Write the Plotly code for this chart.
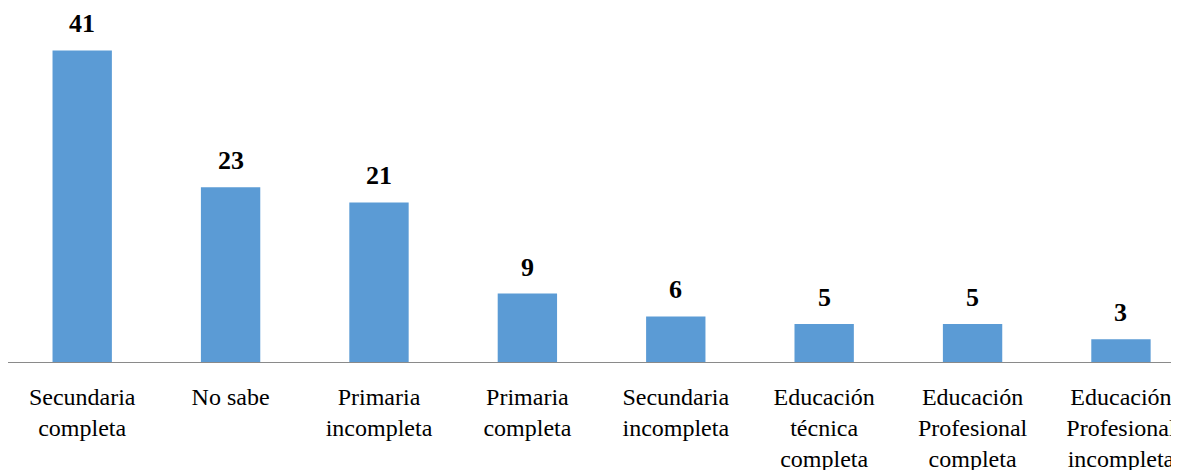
import plotly.graph_objects as go

categories = ["Secundaria<br>completa", "No sabe", "Primaria<br>incompleta", "Primaria<br>completa",
              "Secundaria<br>incompleta", "Educación<br>técnica<br>completa",
              "Educación<br>Profesional<br>completa", "Educación<br>Profesional<br>incompleta"]
values = [41, 23, 21, 9, 6, 5, 5, 3]

SERIF = "Times New Roman"

fig = go.Figure()
fig.add_trace(go.Bar(x=list(range(len(categories))), y=values, marker_color="#5B9BD5",
                     marker_line_width=0, width=0.4))

for i, v in enumerate(values):
    fig.add_annotation(x=i, y=v, text=f"<b>{v}</b>", showarrow=False, yanchor="bottom",
                       yshift=10, font=dict(family=SERIF, size=26, color="#000000"))

fig.update_layout(
    width=1179, height=470,
    margin=dict(l=0, r=0, t=12, b=116),
    plot_bgcolor="white", paper_bgcolor="white",
    showlegend=False,
    font=dict(family=SERIF, size=24, color="#000000"),
)
fig.update_xaxes(tickmode="array", tickvals=list(range(len(categories))), ticktext=categories,
                 range=[-0.5, 7.445], showline=True, linecolor="#8a8a8a", linewidth=1,
                 ticks="", showgrid=False, zeroline=False, automargin=False,
                 ticklabelstandoff=13,
                 tickfont=dict(family=SERIF, size=24, color="#000000"))
fig.update_yaxes(range=[0, 45], visible=False, showgrid=False, zeroline=False)

fig.write_html("out.html")
